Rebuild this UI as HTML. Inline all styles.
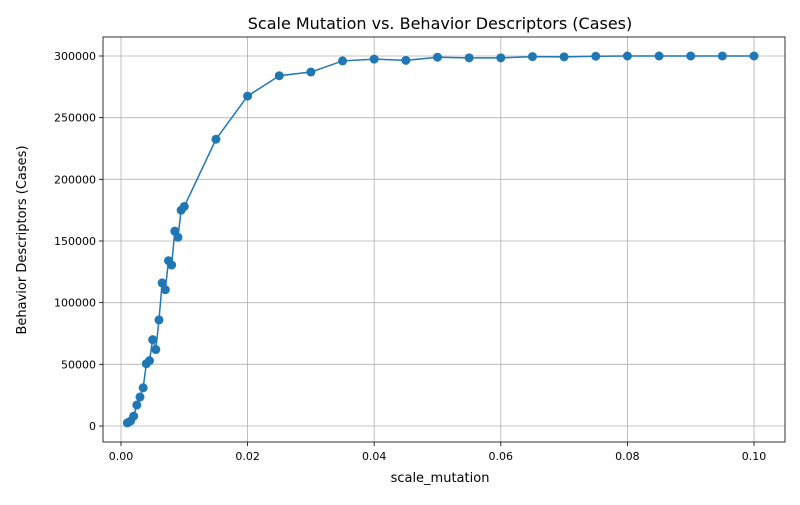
<!DOCTYPE html>
<html><head><meta charset="utf-8"><style>
body{margin:0;background:#fff;font-family:"Liberation Sans","DejaVu Sans",sans-serif;}
text{font-family:"DejaVu Sans","Liberation Sans",sans-serif;}
</style></head><body>
<svg id="chart" width="800" height="500" xmlns="http://www.w3.org/2000/svg">
<rect width="800" height="500" fill="#fff"/>
<g id="grid"></g><g id="axes"></g><g id="series"></g>
<text x="440" y="29" text-anchor="middle" font-size="16">Scale Mutation vs. Behavior Descriptors (Cases)</text>
<text x="440" y="482" text-anchor="middle" font-size="13">scale_mutation</text>
<text transform="translate(26,240) rotate(-90)" text-anchor="middle" font-size="13">Behavior Descriptors (Cases)</text>
</svg>
<script>
const xValues=[0.001,0.0015,0.002,0.0025,0.003,0.0035,0.004,0.0045,0.005,0.0055,0.006,0.0065,0.007,0.0075,0.008,0.0085,0.009,0.0095,0.01,0.015,0.02,0.025,0.03,0.035,0.04,0.045,0.05,0.055,0.06,0.065,0.07,0.075,0.08,0.085,0.09,0.095,0.1];
const yValues=[2500,4000,8000,17000,23500,31000,50500,53000,70000,62000,86000,116000,110500,134000,130500,158000,153000,175000,178000,232500,267500,284000,287000,296000,297500,296500,299000,298500,298500,299500,299300,299800,300000,300000,300000,300000,300000];
const xTicks=[0,0.02,0.04,0.06,0.08,0.1];
const xTickLabels=["0.00","0.02","0.04","0.06","0.08","0.10"];
const yTicks=[0,50000,100000,150000,200000,250000,300000];
const yTickLabels=["0","50000","100000","150000","200000","250000","300000"];
const L=103,R=785,T=37,B=442;
const xs=v=>121+(v/0.1)*(754-121);
const ys=v=>426-(v/300000)*(426-56);
const NS="http://www.w3.org/2000/svg";
function mk(tag,attrs,parent){const e=document.createElementNS(NS,tag);for(const k in attrs)e.setAttribute(k,attrs[k]);parent.appendChild(e);return e;}
const grid=document.getElementById('grid'),axes=document.getElementById('axes'),series=document.getElementById('series');
xTicks.forEach((t,i)=>{const x=xs(t);
 const g=mk('line',{x1:x,x2:x,y1:T,y2:B,stroke:'#b0b0b0','stroke-width':0.8},grid);
 
 
 mk('line',{x1:x,x2:x,y1:B,y2:B+4,stroke:'#000','stroke-width':0.8},axes);
 const tx=mk('text',{x:x,y:B+18,'text-anchor':'middle','font-size':11},axes);tx.textContent=xTickLabels[i];
 
 
});
yTicks.forEach((t,i)=>{const y=ys(t);
 const g=mk('line',{x1:L,x2:R,y1:y,y2:y,stroke:'#b0b0b0','stroke-width':0.8},grid);
 
 
 mk('line',{x1:L-4,x2:L,y1:y,y2:y,stroke:'#000','stroke-width':0.8},axes);
 const tx=mk('text',{x:L-7,y:y+4,'text-anchor':'end','font-size':11},axes);tx.textContent=yTickLabels[i];
 
 
});
const frame=mk('rect',{x:L,y:T,width:R-L,height:B-T,fill:'none',stroke:'#000','stroke-width':0.8},axes);


const pts=xValues.map((x,i)=>xs(x)+','+ys(yValues[i])).join(' ');
const line=mk('polyline',{points:pts,fill:'none',stroke:'#1f77b4','stroke-width':1.5},series);


xValues.forEach((x,i)=>{
 const c=mk('circle',{cx:xs(x),cy:ys(yValues[i]),r:4.5,fill:'#1f77b4'},series);
 
 
});
</script>
</body></html>
